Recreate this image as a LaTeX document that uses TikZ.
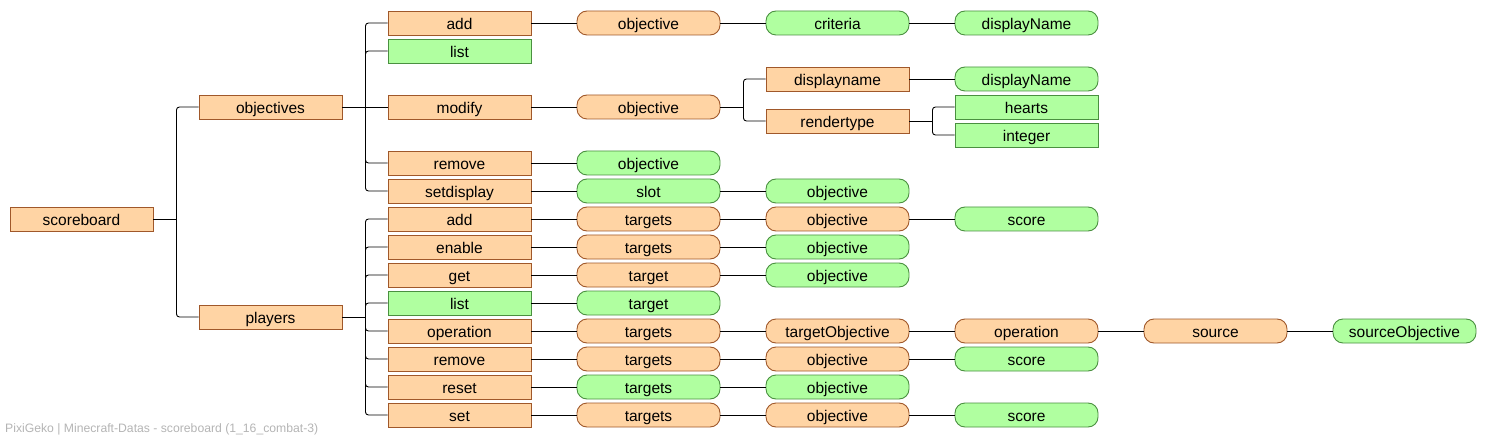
\documentclass[tikz,border=0pt]{standalone}
\usepackage{fontspec}
\setmainfont{Liberation Sans}
\definecolor{ofill}{HTML}{FFD4A4}
\definecolor{odraw}{HTML}{A0582A}
\definecolor{gfill}{HTML}{B0FFA0}
\definecolor{gdraw}{HTML}{4A9040}
\definecolor{foot}{HTML}{B4B4B4}
\newcommand{\cx}[1]{\fpeval{81.5+189*#1}}
\newcommand{\wireto}[2]{%
  \draw[wire] (#1.east) -- ++(23,0);
  \draw[wire,rounded corners=3pt] ([xshift=23pt]#1.east) |- (#2.west);}
\newcommand{\wireln}[2]{\draw[wire] (#1.east) -- (#2.west);}
\tikzset{
  base/.style={minimum width=143pt, minimum height=24pt, inner sep=0pt,
    line width=0.9pt, text height=15pt, text depth=2pt,
    font=\fontsize{15.5}{18}\selectfont},
  orect/.style={base, fill=ofill, draw=odraw},
  grect/.style={base, fill=gfill, draw=gdraw},
  opill/.style={base, fill=ofill, draw=odraw, rounded corners=10pt},
  gpill/.style={base, fill=gfill, draw=gdraw, rounded corners=10pt},
  wire/.style={draw=black, line width=0.9pt},
}
\begin{document}
\begin{tikzpicture}[x=1pt,y=-1pt]
\useasboundingbox (0,0) rectangle (1487,438);
% level 0/1
\node[orect] (sb) at (\cx{0},219) {scoreboard};
\node[orect] (ob) at (\cx{1},107) {objectives};
\node[orect] (pl) at (\cx{1},317) {players};
% objectives branch
\node[orect] (oadd) at (\cx{2},23) {add};
\node[grect] (olist) at (\cx{2},51) {list};
\node[orect] (omod) at (\cx{2},107) {modify};
\node[orect] (orem) at (\cx{2},163) {remove};
\node[orect] (oset) at (\cx{2},191) {setdisplay};
\node[opill] (oaddo) at (\cx{3},23) {objective};
\node[opill] (omodo) at (\cx{3},107) {objective};
\node[gpill] (oremo) at (\cx{3},163) {objective};
\node[gpill] (osets) at (\cx{3},191) {slot};
\node[gpill] (oaddc) at (\cx{4},23) {criteria};
\node[orect] (odn) at (\cx{4},79) {displayname};
\node[orect] (ort) at (\cx{4},121) {rendertype};
\node[gpill] (oseto) at (\cx{4},191) {objective};
\node[gpill] (oaddd) at (\cx{5},23) {displayName};
\node[gpill] (odnd) at (\cx{5},79) {displayName};
\node[grect] (oh) at (\cx{5},107) {hearts};
\node[grect] (oi) at (\cx{5},135) {integer};
% players branch
\node[orect] (padd) at (\cx{2},219) {add};
\node[orect] (pen) at (\cx{2},247) {enable};
\node[orect] (pget) at (\cx{2},275) {get};
\node[grect] (plist) at (\cx{2},303) {list};
\node[orect] (pop) at (\cx{2},331) {operation};
\node[orect] (prem) at (\cx{2},359) {remove};
\node[orect] (pres) at (\cx{2},387) {reset};
\node[orect] (pset) at (\cx{2},415) {set};
\node[opill] (paddt) at (\cx{3},219) {targets};
\node[opill] (pent) at (\cx{3},247) {targets};
\node[opill] (pgett) at (\cx{3},275) {target};
\node[gpill] (plistt) at (\cx{3},303) {target};
\node[opill] (popt) at (\cx{3},331) {targets};
\node[opill] (premt) at (\cx{3},359) {targets};
\node[gpill] (prest) at (\cx{3},387) {targets};
\node[opill] (psett) at (\cx{3},415) {targets};
\node[opill] (paddo) at (\cx{4},219) {objective};
\node[gpill] (peno) at (\cx{4},247) {objective};
\node[gpill] (pgeto) at (\cx{4},275) {objective};
\node[opill] (popto) at (\cx{4},331) {targetObjective};
\node[opill] (premo) at (\cx{4},359) {objective};
\node[gpill] (preso) at (\cx{4},387) {objective};
\node[opill] (pseto) at (\cx{4},415) {objective};
\node[gpill] (padds) at (\cx{5},219) {score};
\node[opill] (popo) at (\cx{5},331) {operation};
\node[gpill] (prems) at (\cx{5},359) {score};
\node[gpill] (psets) at (\cx{5},415) {score};
\node[opill] (pops) at (\cx{6},331) {source};
\node[gpill] (popso) at (\cx{7},331) {sourceObjective};
% connectors
\wireto{sb}{ob}\wireto{sb}{pl}
\foreach \c in {oadd,olist,orem,oset}{\wireto{ob}{\c}}
\wireln{ob}{omod}
\wireln{oadd}{oaddo}\wireln{oaddo}{oaddc}\wireln{oaddc}{oaddd}
\wireln{omod}{omodo}\wireto{omodo}{odn}\wireto{omodo}{ort}
\wireln{odn}{odnd}\wireto{ort}{oh}\wireto{ort}{oi}
\wireln{orem}{oremo}
\wireln{oset}{osets}\wireln{osets}{oseto}
\foreach \c in {padd,pen,pget,plist,pop,prem,pres,pset}{\wireto{pl}{\c}}
\wireln{padd}{paddt}\wireln{paddt}{paddo}\wireln{paddo}{padds}
\wireln{pen}{pent}\wireln{pent}{peno}
\wireln{pget}{pgett}\wireln{pgett}{pgeto}
\wireln{plist}{plistt}
\wireln{pop}{popt}\wireln{popt}{popto}\wireln{popto}{popo}\wireln{popo}{pops}\wireln{pops}{popso}
\wireln{prem}{premt}\wireln{premt}{premo}\wireln{premo}{prems}
\wireln{pres}{prest}\wireln{prest}{preso}
\wireln{pset}{psett}\wireln{psett}{pseto}\wireln{pseto}{psets}
% footer
\node[anchor=base west, inner sep=0pt, text=foot, font=\fontsize{12.2}{14}\selectfont] (footer) at (5,432) {PixiGeko | Minecraft-Datas - scoreboard (1\_16\_combat-3)};
\end{tikzpicture}
\end{document}
